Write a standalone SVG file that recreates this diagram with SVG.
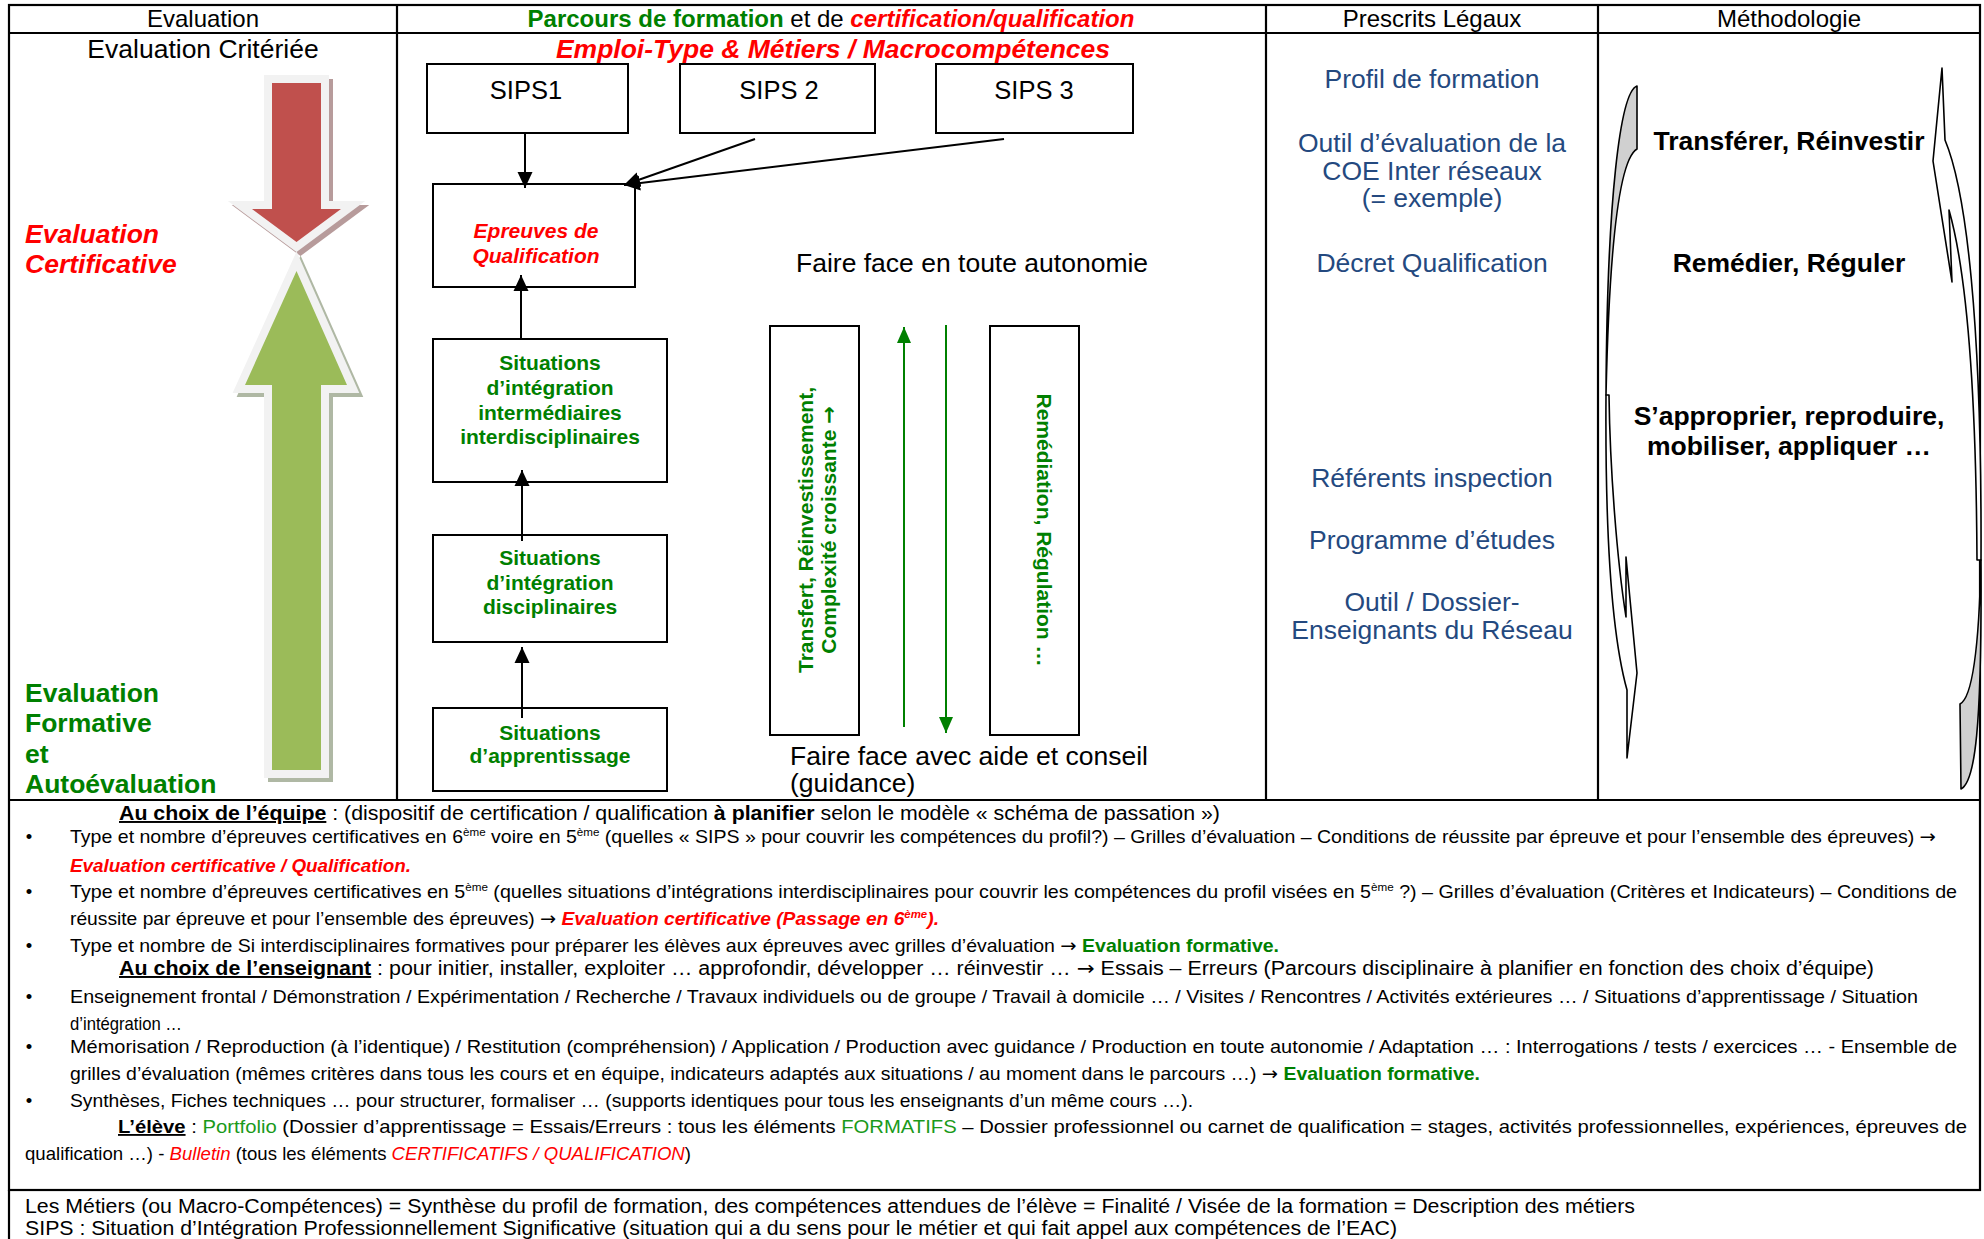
<svg xmlns="http://www.w3.org/2000/svg" width="1984" height="1239" viewBox="0 0 1984 1239">
<defs>
<style>
text { font-family: "Liberation Sans", Arial, Helvetica, sans-serif; fill: #000; }
.hdr { font-size: 24px; }
.frame { stroke: #000; stroke-width: 2.2; fill: none; }
.box { fill: #fff; stroke: #000; stroke-width: 2; }
.big { font-size: 26.5px; }
.blue { fill: #24497f; font-size: 26.5px; text-anchor: middle; }
.meth { font-size: 26.5px; font-weight: bold; text-anchor: middle; }
.sit { fill: #008000; font-weight: bold; font-size: 21px; text-anchor: middle; }
.sips { font-size: 25.5px; text-anchor: middle; }
.body { font-size: 18.5px; }
.nar { font-size: 19.5px; }
.red { fill: #ff0000; }
.grn { fill: #008000; }
.lgrn { fill: #1a9a1a; }
.b { font-weight: bold; }
.i { font-style: italic; }
.u { text-decoration: underline; }
.arr { font-family: "DejaVu Sans", sans-serif; }
.conn { stroke: #000; stroke-width: 2; fill: none; }
.gconn { stroke: #008000; stroke-width: 2; fill: none; }
.outl { fill: #f2f2f2; stroke: #f2f2f2; stroke-width: 16; stroke-linejoin: miter; stroke-miterlimit: 6; }
.cback { fill: #d0d0d0; stroke: #000; stroke-width: 1.6; stroke-linejoin: round; }
.cfront { fill: #fff; stroke: #000; stroke-width: 1.6; stroke-linejoin: round; }
</style>
<marker id="ah" markerUnits="userSpaceOnUse" markerWidth="16" markerHeight="16" viewBox="0 0 16 16" refX="16" refY="8" orient="auto"><path d="M0,0.5 L16,8 L0,15.5 Z" fill="#000"/></marker>
<marker id="gah" markerUnits="userSpaceOnUse" markerWidth="16" markerHeight="16" viewBox="0 0 16 16" refX="16" refY="8" orient="auto"><path d="M0,1 L16,8 L0,15 Z" fill="#008000"/></marker>
</defs>
<rect x="0" y="0" width="1984" height="1239" fill="#fff"/>

<g id="table">
<rect x="9" y="5" width="1971" height="1185" class="frame"/>
<line class="frame" x1="9" y1="33" x2="1980" y2="33"/>
<line class="frame" x1="397" y1="5" x2="397" y2="800"/>
<line class="frame" x1="1266" y1="5" x2="1266" y2="800"/>
<line class="frame" x1="1598" y1="5" x2="1598" y2="800"/>
<line class="frame" x1="9" y1="800" x2="1980" y2="800"/>
<line class="frame" x1="9" y1="1190" x2="9" y2="1239"/>
</g>

<g id="headers">
<text class="hdr" x="203" y="27" text-anchor="middle">Evaluation</text>
<text class="hdr" x="831" y="27" text-anchor="middle"><tspan class="grn b">Parcours de formation</tspan> et de <tspan class="red b i">certification/qualification</tspan></text>
<text class="hdr" x="1432" y="27" text-anchor="middle">Prescrits Légaux</text>
<text class="hdr" x="1789" y="27" text-anchor="middle">Méthodologie</text>
</g>

<g id="evaluation-column">
<text class="big" x="203" y="58" text-anchor="middle">Evaluation Critériée</text>
<text class="big red b i" x="25" y="243">Evaluation</text>
<text class="big red b i" x="25" y="273">Certificative</text>
<text class="big grn b" x="25" y="702">Evaluation</text>
<text class="big grn b" x="25" y="732">Formative</text>
<text class="big grn b" x="25" y="763">et</text>
<text class="big grn b" x="25" y="793">Autoévaluation</text>
</g>

<g id="arrow-certificative">
<polygon points="276,87 325,87 325,213 345,213 300.5,246 256,213 276,213" class="outl" style="fill:#7e4a4a;stroke:#7e4a4a" opacity="0.55"/>
<polygon points="272,83 321,83 321,209 341,209 296.5,242 252,209 272,209" class="outl"/>
<polygon points="272,83 321,83 321,209 341,209 296.5,242 252,209 272,209" fill="#c0504d"/>
</g>
<g id="arrow-formative">
<polygon points="300.5,275 351,389 325,389 325,774 276,774 276,389 249,389" class="outl" style="fill:#6f7f5a;stroke:#6f7f5a" opacity="0.55"/>
<polygon points="296.5,271 347,385 321,385 321,770 272,770 272,385 245,385" class="outl"/>
<polygon points="296.5,271 347,385 321,385 321,770 272,770 272,385 245,385" fill="#9bbb59"/>
</g>

<g id="parcours-title">
<text class="big red b i" x="833" y="58" text-anchor="middle">Emploi-Type &amp; Métiers / Macrocompétences</text>
</g>

<g id="sips1"><rect class="box" x="427" y="64" width="201" height="69"/><text class="sips" x="526" y="99">SIPS1</text></g>
<g id="sips2"><rect class="box" x="680" y="64" width="195" height="69"/><text class="sips" x="779" y="99">SIPS 2</text></g>
<g id="sips3"><rect class="box" x="936" y="64" width="197" height="69"/><text class="sips" x="1034" y="99">SIPS 3</text></g>

<g id="epreuves"><rect class="box" x="433" y="184" width="202" height="103"/>
<text class="sit i" style="fill:#ff0000" x="536" y="238">Epreuves de</text>
<text class="sit i" style="fill:#ff0000" x="536" y="263">Qualification</text></g>

<g id="si-interdisciplinaires"><rect class="box" x="433" y="339" width="234" height="143"/>
<text class="sit" x="550" y="370">Situations</text>
<text class="sit" x="550" y="395">d’intégration</text>
<text class="sit" x="550" y="420">intermédiaires</text>
<text class="sit" x="550" y="444">interdisciplinaires</text></g>

<g id="si-disciplinaires"><rect class="box" x="433" y="535" width="234" height="107"/>
<text class="sit" x="550" y="565">Situations</text>
<text class="sit" x="550" y="590">d’intégration</text>
<text class="sit" x="550" y="614">disciplinaires</text></g>

<g id="situations-apprentissage"><rect class="box" x="433" y="708" width="234" height="83"/>
<text class="sit" x="550" y="740">Situations</text>
<text class="sit" x="550" y="763">d’apprentissage</text></g>

<g id="autonomie-labels">
<text class="big" x="796" y="272">Faire face en toute autonomie</text>
<text class="big" x="790" y="765">Faire face avec aide et conseil</text>
<text class="big" x="790" y="792">(guidance)</text>
</g>

<g id="transfert-box"><rect class="box" x="770" y="326" width="89" height="409"/>
<text class="sit" transform="translate(813,530) rotate(-90)">Transfert, Réinvestissement,</text>
<text class="sit" transform="translate(836,530) rotate(-90)">Complexité croissante <tspan class="arr">→</tspan></text></g>

<g id="remediation-box"><rect class="box" x="990" y="326" width="89" height="409"/>
<text class="sit" transform="translate(1037,530) rotate(90)">Remédiation, Régulation …</text></g>

<g id="connectors">
<line class="conn" x1="525" y1="133" x2="525" y2="188" marker-end="url(#ah)"/>
<line class="conn" x1="755" y1="139" x2="624" y2="185" marker-end="url(#ah)"/>
<line class="conn" x1="1004" y1="139" x2="624" y2="185" marker-end="url(#ah)"/>
<line class="conn" x1="521" y1="340" x2="521" y2="275" marker-end="url(#ah)"/>
<line class="conn" x1="522" y1="541" x2="522" y2="470" marker-end="url(#ah)"/>
<line class="conn" x1="522" y1="718" x2="522" y2="647" marker-end="url(#ah)"/>
<line class="gconn" x1="904" y1="727" x2="904" y2="327" marker-end="url(#gah)"/>
<line class="gconn" x1="946" y1="325" x2="946" y2="733" marker-end="url(#gah)"/>
</g>

<g id="prescrits">
<text class="blue" x="1432" y="88">Profil de formation</text>
<text class="blue" x="1432" y="152">Outil d’évaluation de la</text>
<text class="blue" x="1432" y="180">COE Inter réseaux</text>
<text class="blue" x="1432" y="207">(= exemple)</text>
<text class="blue" x="1432" y="272">Décret Qualification</text>
<text class="blue" x="1432" y="487">Référents inspection</text>
<text class="blue" x="1432" y="549">Programme d’études</text>
<text class="blue" x="1432" y="611">Outil / Dossier-</text>
<text class="blue" x="1432" y="639">Enseignants du Réseau</text>
</g>

<g id="methodologie">
<path class="cback" d="M1637,86 C1620,92 1607,200 1606,395 C1609,260 1618,160 1637,149 Z"/>
<path class="cfront" d="M1606,395 C1605,540 1613,640 1627,690 L1627,758 L1637,673 L1626,557 L1626,617 C1617,560 1610,470 1609,395 Z"/>
<path class="cfront" d="M1981,560 C1982,320 1966,190 1945,140 L1942,68 L1933,161 L1952,282 L1949,210 C1966,270 1976,380 1977,560 Z"/>
<path class="cback" d="M1961,789 C1975,782 1982,730 1981,560 C1979,650 1972,698 1960,704 Z"/>
<text class="meth" x="1789" y="150">Transférer, Réinvestir</text>
<text class="meth" x="1789" y="272">Remédier, Réguler</text>
<text class="meth" x="1789" y="425">S’approprier, reproduire,</text>
<text class="meth" x="1789" y="455">mobiliser, appliquer …</text>
</g>

<g id="notes">
<text class="nar" x="119" y="820" textLength="1101" lengthAdjust="spacingAndGlyphs"><tspan class="b u">Au choix de l’équipe</tspan> : (dispositif de certification / qualification <tspan class="b">à planifier</tspan> selon le modèle « schéma de passation »)</text>
<text class="body" x="29" y="843" text-anchor="middle">•</text>
<text class="body" x="70" y="843" textLength="1866" lengthAdjust="spacingAndGlyphs">Type et nombre d’épreuves certificatives en 6<tspan dy="-7" font-size="11">ème</tspan><tspan dy="7"> voire en 5</tspan><tspan dy="-7" font-size="11">ème</tspan><tspan dy="7"> (quelles « SIPS » pour couvrir les compétences du profil?) – Grilles d’évaluation – Conditions de réussite par épreuve et pour l’ensemble des épreuves) </tspan><tspan class="arr">→</tspan></text>
<text class="body red b i" x="70" y="872" textLength="341" lengthAdjust="spacingAndGlyphs">Evaluation certificative / Qualification.</text>
<text class="body" x="29" y="898" text-anchor="middle">•</text>
<text class="body" x="70" y="898" textLength="1887" lengthAdjust="spacingAndGlyphs">Type et nombre d’épreuves certificatives en 5<tspan dy="-7" font-size="11">ème</tspan><tspan dy="7"> (quelles situations d’intégrations interdisciplinaires pour couvrir les compétences du profil visées en 5</tspan><tspan dy="-7" font-size="11">ème</tspan><tspan dy="7"> ?) – Grilles d’évaluation (Critères et Indicateurs) – Conditions de</tspan></text>
<text class="body" x="70" y="925" textLength="869" lengthAdjust="spacingAndGlyphs">réussite par épreuve et pour l’ensemble des épreuves) <tspan class="arr">→</tspan> <tspan class="red b i">Evaluation certificative (Passage en 6</tspan><tspan class="red b i" dy="-7" font-size="11">ème</tspan><tspan class="red b i" dy="7">).</tspan></text>
<text class="body" x="29" y="952" text-anchor="middle">•</text>
<text class="body" x="70" y="952" textLength="1209" lengthAdjust="spacingAndGlyphs">Type et nombre de Si interdisciplinaires formatives pour préparer les élèves aux épreuves avec grilles d’évaluation <tspan class="arr">→</tspan> <tspan class="grn b">Evaluation formative.</tspan></text>
<text class="nar" x="119" y="975" textLength="1755" lengthAdjust="spacingAndGlyphs"><tspan class="b u">Au choix de l’enseignant</tspan> : pour initier, installer, exploiter … approfondir, développer … réinvestir … <tspan class="arr">→</tspan> Essais – Erreurs (Parcours disciplinaire à planifier en fonction des choix d’équipe)</text>
<text class="body" x="29" y="1003" text-anchor="middle">•</text>
<text class="body" x="70" y="1003" textLength="1848" lengthAdjust="spacingAndGlyphs">Enseignement frontal / Démonstration / Expérimentation / Recherche / Travaux individuels ou de groupe / Travail à domicile … / Visites / Rencontres / Activités extérieures … / Situations d’apprentissage / Situation</text>
<text class="body" x="70" y="1030" textLength="112" lengthAdjust="spacingAndGlyphs">d’intégration …</text>
<text class="body" x="29" y="1053" text-anchor="middle">•</text>
<text class="body" x="70" y="1053" textLength="1887" lengthAdjust="spacingAndGlyphs">Mémorisation / Reproduction (à l’identique) / Restitution (compréhension) / Application / Production avec guidance / Production en toute autonomie / Adaptation … : Interrogations / tests / exercices … - Ensemble de</text>
<text class="body" x="70" y="1080" textLength="1410" lengthAdjust="spacingAndGlyphs">grilles d’évaluation (mêmes critères dans tous les cours et en équipe, indicateurs adaptés aux situations / au moment dans le parcours …) <tspan class="arr">→</tspan> <tspan class="grn b">Evaluation formative.</tspan></text>
<text class="body" x="29" y="1107" text-anchor="middle">•</text>
<text class="body" x="70" y="1107" textLength="1123" lengthAdjust="spacingAndGlyphs">Synthèses, Fiches techniques … pour structurer, formaliser … (supports identiques pour tous les enseignants d’un même cours …).</text>
<text class="body" x="118" y="1133" textLength="1849" lengthAdjust="spacingAndGlyphs"><tspan class="b u">L’élève</tspan> : <tspan class="lgrn">Portfolio</tspan> (Dossier d’apprentissage = Essais/Erreurs : tous les éléments <tspan class="lgrn">FORMATIFS</tspan> – Dossier professionnel ou carnet de qualification = stages, activités professionnelles, expériences, épreuves de</text>
<text class="body" x="25" y="1160" textLength="666" lengthAdjust="spacingAndGlyphs">qualification …) - <tspan class="red i">Bulletin</tspan> (tous les éléments <tspan class="red i">CERTIFICATIFS / QUALIFICATION</tspan>)</text>
</g>

<g id="footer">
<text class="nar" x="25" y="1213" textLength="1610" lengthAdjust="spacingAndGlyphs">Les Métiers (ou Macro-Compétences) = Synthèse du profil de formation, des compétences attendues de l’élève = Finalité / Visée de la formation = Description des métiers</text>
<text class="nar" x="25" y="1235" textLength="1372" lengthAdjust="spacingAndGlyphs">SIPS : Situation d’Intégration Professionnellement Significative (situation qui a du sens pour le métier et qui fait appel aux compétences de l’EAC)</text>
</g>
</svg>
